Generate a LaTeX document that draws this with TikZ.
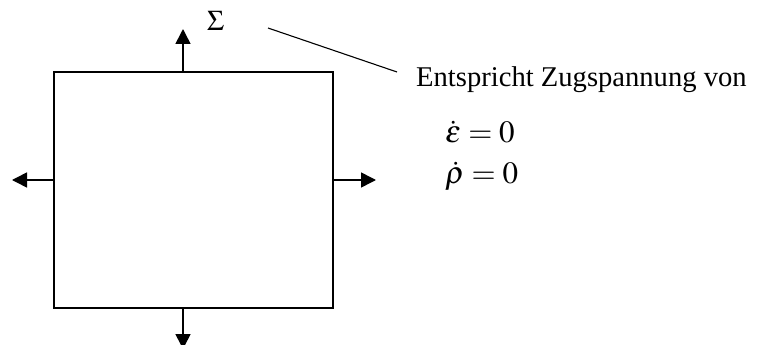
\documentclass[tikz,border=0pt]{standalone}
\usepackage{mathptmx}
\usepackage[no-math]{fontspec}
\setmainfont{Liberation Serif}
\usetikzlibrary{arrows.meta}
\tikzset{
  pull/.style={line width=1.6pt,-{Triangle[length=15pt,width=15pt]}},
  lbl/.style={inner sep=0pt,anchor=base west,font=\fontsize{28.6pt}{34pt}\selectfont},
  eqn/.style={lbl,font=\fontsize{31pt}{36pt}\selectfont},
  leader/.style={line width=1.1pt}
}
\begin{document}
\begin{tikzpicture}[x=1pt,y=-1pt]
\useasboundingbox (0,0) rectangle (758,345);
\node[draw,line width=1.6pt,minimum width=279pt,minimum height=236pt,inner sep=0pt] (box) at (193.5,190) {};
\coordinate (tipN) at (183,29);
\coordinate (tipS) at (183,349);
\coordinate (tipW) at (12,180);
\coordinate (tipE) at (376,180);
\draw[pull] (box.north -| tipN) -- (tipN);
\draw[pull] (box.south -| tipS) -- (tipS);
\draw[pull] (box.west |- tipW) -- (tipW);
\draw[pull] (box.east |- tipE) -- (tipE);
\node[lbl] (sigma) at (207,31) {$\Sigma$};
\coordinate (la) at (268,28);
\coordinate (lb) at (397,72);
\draw[leader] (la) -- (lb);
\node[lbl] (txt) at (416,86) {Entspricht Zugspannung von};
\node[eqn] (eps) at (445,142) {$\dot{\varepsilon}=0$};
\node[eqn] (rho) at (445,183) {$\dot{\rho}=0$};
\end{tikzpicture}
\end{document}
